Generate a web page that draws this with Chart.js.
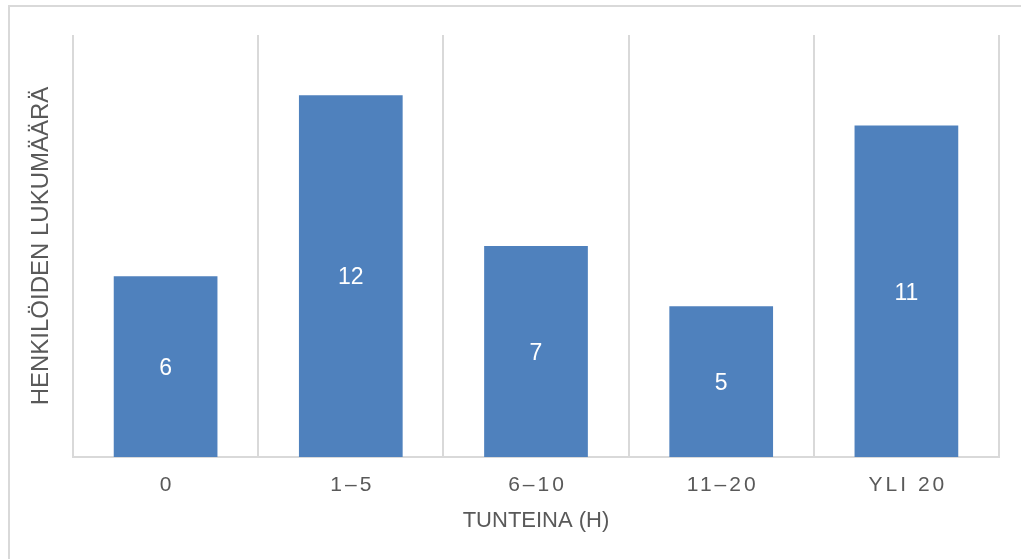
<!DOCTYPE html>
<html>
<head>
<meta charset="utf-8">
<script src="https://cdn.jsdelivr.net/npm/chart.js@4/dist/chart.umd.min.js"></script>
<style>
  html, body { margin: 0; padding: 0; background: #ffffff; overflow: hidden; }
  #wrap { position: relative; width: 1021px; height: 559px; }
  #frame { position: absolute; left: 8px; top: 5px; width: 1100px; height: 600px;
           border: 2px solid #d9d9d9; box-sizing: border-box; }
  #c { position: absolute; left: 0; top: 0; }
</style>
</head>
<body>
<div id="wrap">
  <div id="frame"></div>
  <canvas id="c" width="1021" height="559"></canvas>
</div>
<script>
// Hours spent vs. number of people
const categories = ['0', '1–5', '6–10', '11–20', 'YLI 20'];
const counts = [6, 12, 7, 5, 11];
const yTitle = 'HENKILÖIDEN LUKUMÄÄRÄ';
const xTitle = 'TUNTEINA (H)';

const FONT = "'Liberation Sans', Arial, sans-serif";
const GREY = '#595959';

// Writes each bar's value in the middle of the bar
const barValues = {
  id: 'barValues',
  afterDatasetsDraw(chart) {
    const ctx = chart.ctx;
    const meta = chart.getDatasetMeta(0);
    ctx.save();
    ctx.fillStyle = '#ffffff';
    ctx.font = '23px ' + FONT;
    ctx.textAlign = 'center';
    ctx.textBaseline = 'middle';
    meta.data.forEach((bar, i) => {
      const mid = (bar.y + bar.base) / 2;
      ctx.fillText(String(counts[i]), bar.x, mid + 2);
    });
    ctx.restore();
  }
};

// Spreads the letters of the category labels a little
const spacedTicks = {
  id: 'spacedTicks',
  beforeDraw(chart) {
    const s = chart.scales.x;
    if (s._spaced) return;
    const orig = s.drawLabels;
    s.drawLabels = function (area) {
      this.ctx.save();
      this.ctx.letterSpacing = '3px';
      this.ctx.translate(1.5, 0);
      orig.call(this, area);
      this.ctx.restore();
    };
    s._spaced = true;
  }
};

new Chart(document.getElementById('c'), {
  type: 'bar',
  data: {
    labels: categories,
    datasets: [{
      data: counts,
      backgroundColor: '#4f81bd',
      borderWidth: 0,
      categoryPercentage: 1.0,
      barPercentage: 0.56
    }]
  },
  options: {
    responsive: false,
    animation: false,
    layout: { padding: { top: 35, right: 22, bottom: 25, left: 27 } },
    plugins: { legend: { display: false }, tooltip: { enabled: false } },
    scales: {
      x: {
        offset: true,
        grid: { display: true, offset: true, color: '#d9d9d9', lineWidth: 2, drawTicks: false },
        border: { display: true, color: '#d9d9d9', width: 2 },
        ticks: { color: GREY, font: { family: FONT, size: 21 }, padding: 16, maxRotation: 0 },
        title: { display: true, text: xTitle, color: GREY, font: { family: FONT, size: 22 }, padding: 0 },
        afterFit(scale) { scale.height = 77; }
      },
      y: {
        min: 0,
        max: 14,
        grid: { display: false },
        border: { display: false },
        ticks: { display: false, stepSize: 2 },
        title: { display: true, text: yTitle, color: GREY, font: { family: FONT, size: 24 }, padding: 0 },
        afterFit(scale) { scale.width = 46; }
      }
    }
  },
  plugins: [barValues, spacedTicks]
});
</script>
</body>
</html>
